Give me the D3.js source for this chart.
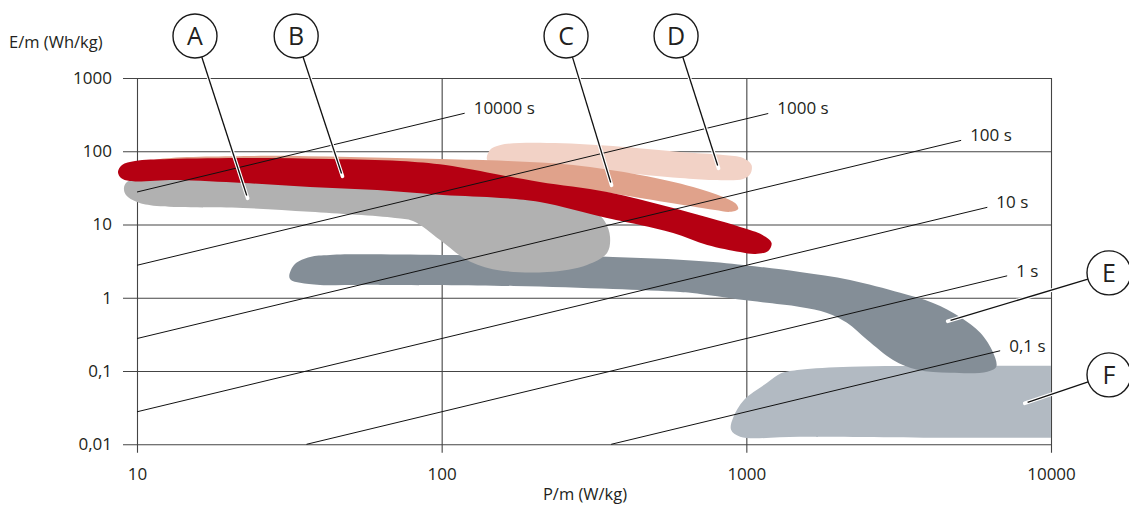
<!DOCTYPE html>
<html>
<head>
<meta charset="utf-8">
<script src="https://cdn.jsdelivr.net/npm/d3@7"></script>
<style>
  html, body { margin: 0; padding: 0; background: #fff; }
  svg { display: block; font-family: "Open Sans", "Noto Sans", sans-serif; }
</style>
</head>
<body>
<svg id="chart" width="1129" height="508"></svg>
<script>
// Axis ticks (decades) and their printed labels
const xTicks = [10, 100, 1000, 10000];
const xTickLabels = ["10", "100", "1000", "10000"];
const yTicks = [1000, 100, 10, 1, 0.1, 0.01];
const yTickLabels = ["1000", "100", "10", "1", "0,1", "0,01"];

// Lines of constant discharge time t (s): E/m = P/m * t / 3600
const dischargeTimes = [10000, 1000, 100, 10, 1, 0.1];
const dischargeEndPower = [119, 1180, 5070, 6180, 7180, 6810];   // P/m where each line stops
const dischargeLabels = ["10000 s", "1000 s", "100 s", "10 s", "1 s", "0,1 s"];

// Technology regions, outlines as [P/m (W/kg), E/m (Wh/kg)]
const regionA = [[9.06,31.6],[9.27,38.1],[10.2,43.2],[16.1,44.6],[34.3,40.6],[73.0,33.6],[156,27.0],
  [264,19.7],[319,14.9],[344,10.8],[357,6.77],[349,4.10],[300,2.81],[222,2.25],[152,2.40],[121,3.29],
  [98.8,6.17],[80.5,11.2],[70.3,12.3],[37.0,14.9],[22.3,16.8],[11.6,17.9],[10.0,20.3],[9.20,25.3]];
const regionB = [[8.66,52.2],[8.93,65.0],[9.85,73.8],[12.8,78.5],[23.5,81.1],[43.0,78.5],[73.0,73.8],
  [103,65.0],[156,47.5],[210,38.1],[349,27.8],[575,16.8],[954,9.27],[1130,7.21],[1210,5.61],[1180,4.36],
  [1070,3.97],[954,4.23],[744,5.27],[575,7.67],[448,9.88],[349,12.3],[210,20.3],[156,23.1],[101,25.3],
  [61.4,29.6],[37.0,32.6],[22.3,36.9],[13.5,40.6],[9.48,39.3],[8.86,43.2]];
const regionC = [[11.0,71.5],[11.9,78.5],[23.5,86.3],[50.0,83.6],[98.8,78.5],[164,73.8],[270,65.0],
  [448,47.5],[669,32.6],[839,23.8],[926,19.1],[940,16.3],[885,14.9],[790,15.8],[654,17.9],[448,23.1],
  [307,29.6],[210,35.8],[98.8,47.5],[34.3,55.6],[11.9,55.6]];
const regionD = [[141,76.1],[144,104],[156,122],[222,130],[365,118],[606,97.8],[839,89.1],[976,81.1],
  [1040,65.0],[1030,49.0],[976,41.9],[778,40.6],[606,43.2],[365,52.2],[227,61.1],[156,65.0]];
const regionE = [[31.6,1.99],[33.0,2.90],[37.0,3.61],[43.0,3.85],[98.8,3.85],[365,3.61],[778,3.09],
  [1110,2.64],[1500,2.25],[2190,1.75],[3200,1.17],[4100,0.852],[5030,0.548],[5860,0.332],[6460,0.177],
  [6610,0.114],[6180,0.0975],[4670,0.0944],[3640,0.104],[3030,0.142],[2490,0.267],[2140,0.455],
  [1840,0.622],[1500,0.751],[1030,0.908],[705,1.13],[606,1.20],[365,1.32],[172,1.45],[62.8,1.50],
  [39.9,1.50],[34.3,1.60],[32.0,1.75]];
const regionF = [[891,0.0158],[905,0.0230],[984,0.0405],[1170,0.069],[1300,0.093],[1500,0.104],
  [2190,0.114],[4670,0.118],[9000,0.118],[11000,0.118],[12000,0.118],[12000,0.0123],[11000,0.0123],
  [9000,0.0123],[4670,0.0123],[1500,0.0127],[954,0.0127]];

// Callout letters: circle centre and the point it refers to, both in data space
const calloutNames = ["A", "B", "C", "D", "E", "F"];
const calloutCircle = [[15.5,3740],[33.3,3740],[256,3740],[588,3740],[15500,2.19],[15500,0.0887]];
const calloutAnchor = [[23.0,23.8],[47.1,47.5],[360,35.8],[808,61.1],[4630,0.484],[8290,0.0368]];

// ---- styles ----
const regionFill = { A: "#b1b1b1", B: "#b50012", C: "#e0a28b", D: "#f2d2c6", E: "#848e97", F: "#b2bac2" };
const gridColor = "#444";
const textColor = "#231f20";
const fontFamily = '"Open Sans", "Noto Sans", sans-serif';

const plot = { left: 137, right: 1051, top: 78, bottom: 444.3 };
const gridLeft = 123, gridBottom = 452.7;

const x = d3.scaleLog().domain([10, 10000]).range([plot.left, plot.right]);
const y = d3.scaleLog().domain([0.01, 1000]).range([plot.bottom, plot.top]);

const svg = d3.select("#chart");

// ---- grid (axes with full-length ticks) ----
const yAxis = d3.axisLeft(y)
  .tickValues(yTicks)
  .tickFormat((d, i) => yTickLabels[i])
  .tickSizeInner(-(plot.right - gridLeft))
  .tickSizeOuter(0)
  .tickPadding(11);
const gy = svg.append("g").attr("transform", `translate(${gridLeft},0)`).call(yAxis);
gy.select(".domain").remove();
gy.selectAll(".tick line").attr("stroke", gridColor).attr("stroke-width", 1.1);
gy.selectAll(".tick text").attr("font-size", 17).attr("font-family", fontFamily).attr("fill", textColor);

const xAxis = d3.axisBottom(x)
  .tickValues(xTicks)
  .tickFormat((d, i) => xTickLabels[i])
  .tickSizeInner(-(gridBottom - plot.top))
  .tickSizeOuter(0)
  .tickPadding(15);
const gx = svg.append("g").attr("transform", `translate(0,${gridBottom})`).call(xAxis);
gx.select(".domain").remove();
gx.selectAll(".tick line").attr("stroke", gridColor).attr("stroke-width", 1.1);
gx.selectAll(".tick text").attr("font-size", 17).attr("font-family", fontFamily).attr("fill", textColor);

// ---- axis titles ----
svg.append("text").attr("x", 9).attr("y", 48)
  .attr("font-size", 16.5).attr("fill", textColor).text("E/m (Wh/kg)");
svg.append("text").attr("x", 585).attr("y", 500).attr("text-anchor", "middle")
  .attr("font-size", 16.5).attr("fill", textColor).text("P/m (W/kg)");

// ---- regions ----
svg.append("clipPath").attr("id", "plot-clip")
  .append("rect").attr("x", 0).attr("y", 0).attr("width", x(10000)).attr("height", 508);

const area = d3.line()
  .x(d => x(d[0]))
  .y(d => y(d[1]))
  .curve(d3.curveCatmullRomClosed.alpha(0.5));

const regions = [
  ["F", regionF], ["E", regionE], ["A", regionA], ["D", regionD], ["C", regionC], ["B", regionB]
];
const gRegions = svg.append("g").attr("clip-path", "url(#plot-clip)");
regions.forEach(([name, pts]) => {
  gRegions.append("path").attr("d", area(pts)).attr("fill", regionFill[name]);
});

// ---- constant discharge-time lines ----
const straight = d3.line().x(d => x(d[0])).y(d => y(d[1]));
const gTimes = svg.append("g");
dischargeTimes.forEach((t, i) => {
  const pStart = Math.max(10, 0.01 * 3600 / t);
  const pEnd = dischargeEndPower[i];
  const pts = [[pStart, pStart * t / 3600], [pEnd, pEnd * t / 3600]];
  gTimes.append("path").attr("d", straight(pts))
    .attr("fill", "none").attr("stroke", "#111").attr("stroke-width", 1);
  gTimes.append("text")
    .attr("x", x(pEnd) + 9).attr("y", y(pEnd * t / 3600) + 1)
    .attr("font-size", 17).attr("fill", textColor)
    .text(dischargeLabels[i]);
});

// ---- callouts ----
const r = 22;
const gCallouts = svg.append("g");
calloutNames.forEach((name, i) => {
  const cx = x(calloutCircle[i][0]), cy = y(calloutCircle[i][1]);
  const ax = x(calloutAnchor[i][0]), ay = y(calloutAnchor[i][1]);
  const len = Math.hypot(ax - cx, ay - cy);
  const ux = (ax - cx) / len, uy = (ay - cy) / len;
  const sx = cx + ux * r, sy = cy + uy * r;
  gCallouts.append("line")
    .attr("x1", sx).attr("y1", sy).attr("x2", ax + ux * 1.5).attr("y2", ay + uy * 1.5)
    .attr("stroke", "#fff").attr("stroke-width", 3.6).attr("stroke-linecap", "round");
  gCallouts.append("line")
    .attr("x1", sx).attr("y1", sy).attr("x2", ax - ux * 1.5).attr("y2", ay - uy * 1.5)
    .attr("stroke", "#111").attr("stroke-width", 1.3);
  gCallouts.append("circle").attr("cx", cx).attr("cy", cy).attr("r", r)
    .attr("fill", "#fff").attr("stroke", "#1a1a1a").attr("stroke-width", 1.4);
  gCallouts.append("text").attr("x", cx).attr("y", cy).attr("dy", "0.36em")
    .attr("text-anchor", "middle").attr("font-size", 25).attr("fill", textColor)
    .text(name);
});
</script>
</body>
</html>
